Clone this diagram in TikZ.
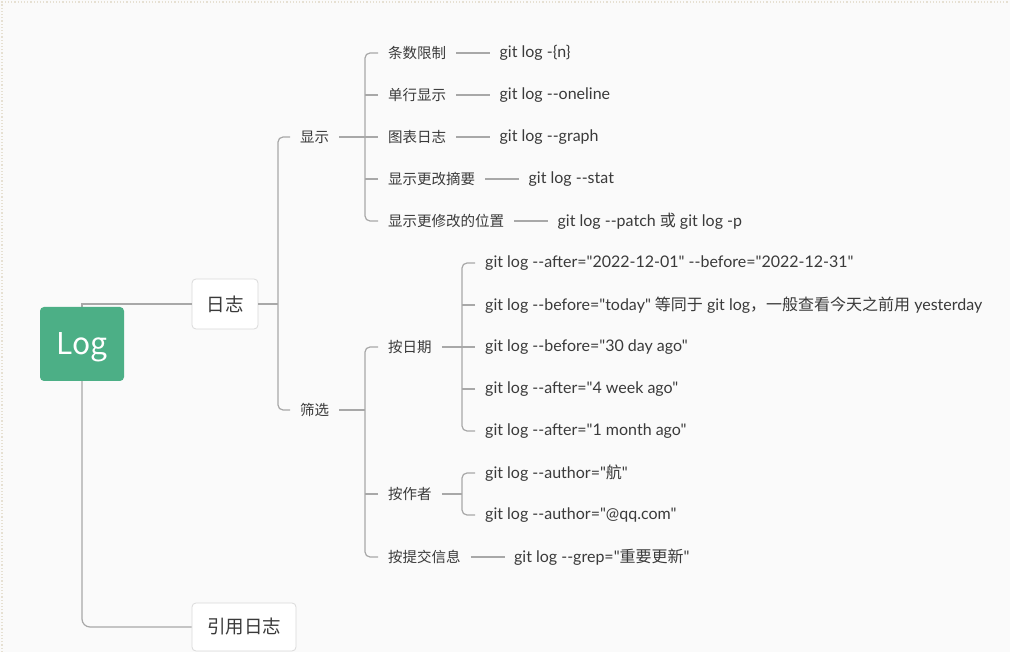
\documentclass[tikz,border=0pt]{standalone}
\usepackage{fontspec}
\newfontfamily\cjk{Noto Sans CJK SC}
\newfontfamily\latin{Lato}
\usetikzlibrary{positioning}

\definecolor{logGreen}{HTML}{4CAF86}
\definecolor{lineGray}{HTML}{A8A8A8}
\definecolor{boxGray}{HTML}{DADADA}
\definecolor{txtGray}{HTML}{3A3A3A}
\definecolor{bgGray}{HTML}{FAFAFA}
\definecolor{dotGray}{HTML}{E6E0D2}

\begin{document}
\begin{tikzpicture}[
  x=1pt, y=-1pt,
  link/.style={draw=lineGray, line width=1.2pt},
  item/.style={anchor=west, inner xsep=10pt, inner ysep=2pt, text=txtGray, font=\cjk\fontsize{14.5}{17}\selectfont},
  code/.style={item, inner xsep=9pt, font=\latin\fontsize{16}{18}\selectfont},
  topic/.style={draw=boxGray, fill=white, line width=0.8pt, rounded corners=4pt, minimum width=66pt, minimum height=50pt, text=txtGray, font=\cjk\fontsize{18.5}{22}\selectfont},
  root/.style={fill=logGreen, rounded corners=4pt, minimum width=84pt, minimum height=74pt, text depth=0pt, text=white, font=\cjk\fontsize{30}{34}\selectfont}
]

\useasboundingbox[fill=bgGray] (0,0) rectangle (1010,652);
\draw[dotted, draw=dotGray, line width=1.2pt] (2,652) -- (2,2) -- (1010,2);

% topics
\node[topic] (rizhi) at (225,304) {日志};
\node[topic, minimum width=104pt, minimum height=48pt] (yinyong) at (244,627) {引用日志};

% root
\coordinate (logc) at (82,344);
\draw[link] (logc) |- (rizhi.west);
\draw[link, rounded corners=8pt] (logc) |- (yinyong.west);
\node[root] (log) at (logc) {Log};

% level 1
\node[item] (xianshi) at (290,137) {显示};
\node[item] (shaixuan) at (290,410) {筛选};
\coordinate (sp1) at (278,304);
\draw[link] (rizhi.east) -- (sp1);
\draw[link, rounded corners=5pt] (xianshi.west) -| (sp1) |- (shaixuan.west);

% 显示
\foreach \i/\y/\lab/\gitc in {1/53/条数限制/{git log -\{n\}},
    2/95/单行显示/{git log --oneline},
    3/137/图表日志/{git log --graph},
    4/179/显示更改摘要/{git log --stat},
    5/221/显示更修改的位置/{git log --patch {\cjk 或} git log -p}}
{
  \node[item] (xs\i) at (378,\y) {\lab};
  \node[code, right=34pt of xs\i] (xc\i) {\gitc};
  \draw[link] (xs\i) -- (xc\i);
}
\coordinate (sp2) at (365,137);
\draw[link] (xianshi.east) -- (xs3.west);
\draw[link, rounded corners=5pt] (xs1.west) -| (sp2) |- (xs5.west);
\foreach \i in {2,4}
  \draw[link] (xs\i.west) -- (xs\i.west -| sp2);

% 筛选
\node[item] (riqi) at (378,347) {按日期};
\node[item] (zuozhe) at (378,494) {按作者};
\node[item] (tijiao) at (378,557) {按提交信息};
\node[code, right=34pt of tijiao] (grep) {git log --grep="{\cjk 重要更新}"};
\draw[link] (tijiao) -- (grep);
\coordinate (sp3) at (365,410);
\draw[link] (shaixuan.east) -- (sp3);
\draw[link, rounded corners=5pt] (riqi.west) -| (sp3) |- (tijiao.west);
\draw[link] (zuozhe.west) -- (zuozhe.west -| sp3);

% 按日期
\foreach \i/\y/\gitc in {1/263/{git log --after="2022-12-01" --before="2022-12-31"},
    2/305/{git log --before="today" {\cjk 等同于} git log{\cjk ，一般查看今天之前用} yesterday},
    3/347/{git log --before="30 day ago"},
    4/389/{git log --after="4 week ago"},
    5/431/{git log --after="1 month ago"}}
  \node[code, inner xsep=10pt] (rq\i) at (475,\y) {\gitc};
\coordinate (sp4) at (462,347);
\draw[link] (riqi.east) -- (rq3.west);
\draw[link, rounded corners=5pt] (rq1.west) -| (sp4) |- (rq5.west);
\foreach \i in {2,4}
  \draw[link] (rq\i.west) -- (rq\i.west -| sp4);

% 按作者
\node[code, inner xsep=10pt] (za1) at (475,473) {git log --author="{\cjk 航}"};
\node[code, inner xsep=10pt] (za2) at (475,515) {git log --author="@qq.com"};
\coordinate (sp5) at (462,494);
\draw[link] (zuozhe.east) -- (sp5);
\draw[link, rounded corners=5pt] (za1.west) -| (sp5) |- (za2.west);

\end{tikzpicture}
\end{document}
